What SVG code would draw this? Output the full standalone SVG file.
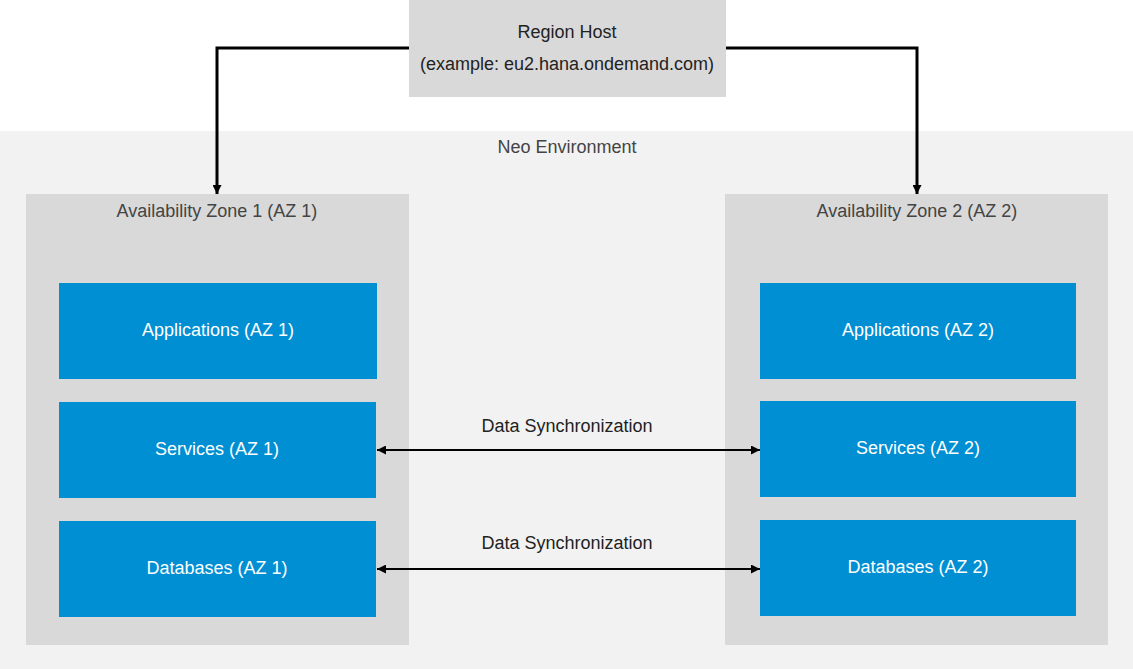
<svg xmlns="http://www.w3.org/2000/svg" width="1133" height="669" viewBox="0 0 1133 669">
<style>
text{font-family:"Liberation Sans",Arial,sans-serif;font-size:18px;text-anchor:middle}
.host{fill:#d9d9d9}
.zone{fill:#d9d9d9}
.env{fill:#f2f2f2}
.blue{fill:#008fd3}
.wt{fill:#ffffff}
.dk{fill:#222222}
.gt{fill:#444444}
.conn{fill:none;stroke:#000;stroke-width:3}
.sync{fill:none;stroke:#000;stroke-width:2.2}
</style>
<defs>
<marker id="arr" viewBox="0 0 10 10" refX="10" refY="5" markerWidth="9" markerHeight="9" markerUnits="userSpaceOnUse" orient="auto-start-reverse">
<path d="M0,0 L10,5 L0,10 z" fill="#000"/>
</marker>
</defs>
<rect width="1133" height="669" fill="#ffffff"/>
<g id="neo-environment">
<rect class="env" x="0" y="131" width="1133" height="538"/>
<text class="gt" x="567" y="153">Neo Environment</text>
</g>
<g id="region-host">
<rect class="host" x="409" y="0" width="317" height="97"/>
<text class="dk" x="567" y="38">Region Host</text>
<text class="dk" x="567" y="70">(example: eu2.hana.ondemand.com)</text>
</g>
<g id="az1">
<rect class="zone" x="26" y="194" width="383" height="451"/>
<text class="gt" x="217" y="217">Availability Zone 1 (AZ 1)</text>
</g>
<g id="az2">
<rect class="zone" x="725" y="194" width="383" height="451"/>
<text class="gt" x="917" y="217">Availability Zone 2 (AZ 2)</text>
</g>
<g id="apps-az1">
<rect class="blue" x="59" y="283" width="318" height="96"/>
<text class="wt" x="218" y="336">Applications (AZ 1)</text>
</g>
<g id="services-az1">
<rect class="blue" x="59" y="402" width="317" height="96"/>
<text class="wt" x="217" y="455">Services (AZ 1)</text>
</g>
<g id="databases-az1">
<rect class="blue" x="59" y="521" width="317" height="96"/>
<text class="wt" x="217" y="574">Databases (AZ 1)</text>
</g>
<g id="apps-az2">
<rect class="blue" x="760" y="283" width="316" height="96"/>
<text class="wt" x="918" y="336">Applications (AZ 2)</text>
</g>
<g id="services-az2">
<rect class="blue" x="760" y="401" width="316" height="96"/>
<text class="wt" x="918" y="454">Services (AZ 2)</text>
</g>
<g id="databases-az2">
<rect class="blue" x="760" y="520" width="316" height="96"/>
<text class="wt" x="918" y="573">Databases (AZ 2)</text>
</g>
<g id="connectors">
<path class="conn" d="M409,48 H217 V194" marker-end="url(#arr)"/>
<path class="conn" d="M726,48 H917 V194" marker-end="url(#arr)"/>
<path class="sync" d="M377,450 H760" marker-start="url(#arr)" marker-end="url(#arr)"/>
<text class="dk" x="567" y="432">Data Synchronization</text>
<path class="sync" d="M377,569 H760" marker-start="url(#arr)" marker-end="url(#arr)"/>
<text class="dk" x="567" y="549">Data Synchronization</text>
</g>
</svg>
